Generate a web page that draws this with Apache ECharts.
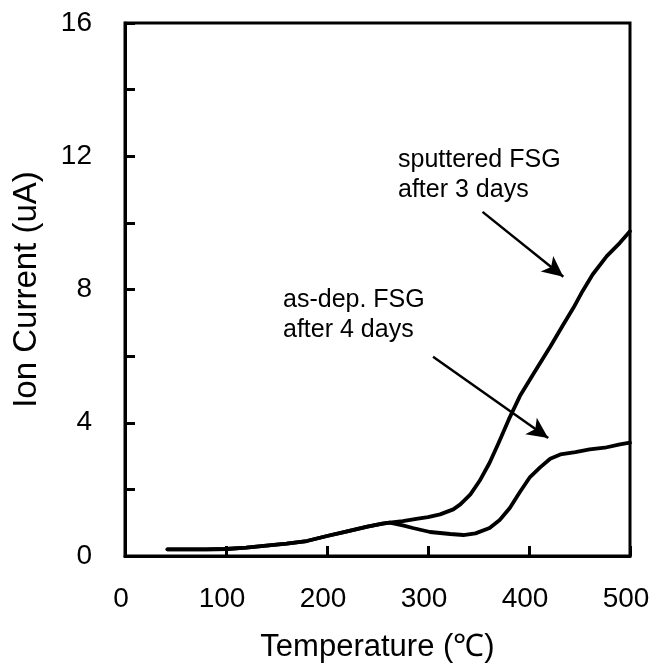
<!DOCTYPE html>
<html>
<head>
<meta charset="utf-8">
<script src="https://cdn.jsdelivr.net/npm/echarts@6/dist/echarts.min.js"></script>
<style>html,body{margin:0;padding:0;background:#fff}#c{width:653px;height:671px}</style>
</head>
<body>
<div id="c"></div>
<script>
// Data
var sputteredT = [42,60,80,100,120,140,160,180,200,220,240,255,262,275,290,300,312,325,332,342,351,361,370,380,391,404,421,434,444,453,463,477,490,500];
var sputteredI = [0.2,0.2,0.2,0.21,0.25,0.31,0.37,0.45,0.6,0.74,0.88,0.97,1.0,1.05,1.12,1.17,1.25,1.4,1.55,1.85,2.25,2.8,3.4,4.1,4.8,5.45,6.28,6.95,7.45,7.95,8.45,9.0,9.4,9.75];
var asdepT = [42,60,80,100,120,140,160,180,200,220,240,255,262,275,285,302,322,335,347,361,371,381,391,401,411,421,431,446,460,475,490,500];
var asdepI = [0.2,0.2,0.2,0.21,0.25,0.31,0.37,0.45,0.6,0.74,0.88,0.97,1.0,0.92,0.84,0.72,0.66,0.63,0.68,0.84,1.08,1.44,1.92,2.37,2.66,2.92,3.05,3.12,3.2,3.25,3.35,3.4];
var xTicks = [0,100,200,300,400,500];
var yTicks = [0,4,8,12,16];
var arrowSputtered = [[354,10.33],[434,8.38]];
var arrowAsdep = [[305,5.98],[419,3.54]];

function pairs(xs, ys){ return xs.map(function(x,i){return [x, ys[i]];}); }
var FONT = 'Liberation Sans, Arial, sans-serif';
var chart = echarts.init(document.getElementById('c'));
chart.setOption({
  animation: false,
  backgroundColor: '#fff',
  grid: {left:125, right:23, top:23, bottom:115, show:true, borderColor:'#000', borderWidth:3, backgroundColor:'transparent'},
  xAxis: {
    type:'value', min:xTicks[0], max:xTicks[xTicks.length-1], interval:100,
    name:'Temperature (\u2103)', nameLocation:'middle', nameGap:76,
    nameTextStyle:{fontFamily:FONT, fontSize:31, color:'#000'},
    axisLine:{show:true, lineStyle:{color:'#000', width:3}},
    axisTick:{show:true, inside:true, length:10, lineStyle:{color:'#000', width:3}},
    axisLabel:{fontFamily:FONT, fontSize:28, color:'#000', margin:29, padding:[0,8,0,0]},
    splitLine:{show:false}
  },
  yAxis: {
    type:'value', min:yTicks[0], max:yTicks[yTicks.length-1], interval:2,
    name:'Ion Current (uA)', nameLocation:'middle', nameGap:82, nameRotate:90,
    nameTextStyle:{fontFamily:FONT, fontSize:33, color:'#000'},
    axisLine:{show:true, lineStyle:{color:'#000', width:3}},
    axisTick:{show:true, inside:true, length:10, lineStyle:{color:'#000', width:3}},
    axisLabel:{fontFamily:FONT, fontSize:28, color:'#000', margin:33,
      formatter:function(v){ return yTicks.indexOf(v) >= 0 ? String(v) : ''; }},
    splitLine:{show:false}
  },
  series: [
    {type:'line', name:'sputtered FSG after 3 days', data:pairs(sputteredT, sputteredI), showSymbol:false, smooth:false,
     lineStyle:{color:'#000', width:3.8, join:'round', cap:'round'}, z:3,
     markLine:{silent:true, symbol:['none','arrow'], symbolSize:[15,21], label:{show:false},
       lineStyle:{color:'#000', width:2.5, type:'solid'},
       data:[[{coord:arrowSputtered[0]},{coord:arrowSputtered[1]}],[{coord:arrowAsdep[0]},{coord:arrowAsdep[1]}]]}},
    {type:'line', name:'as-dep. FSG after 4 days', data:pairs(asdepT, asdepI), showSymbol:false, smooth:false,
     lineStyle:{color:'#000', width:3.8, join:'round', cap:'round'}, z:3}
  ],
  graphic: [
    {type:'text', left:398, top:145, style:{text:'sputtered FSG\nafter 3 days', font:'25px '+FONT, fill:'#000', lineHeight:30}},
    {type:'text', left:283, top:285, style:{text:'as-dep. FSG\nafter 4 days', font:'25px '+FONT, fill:'#000', lineHeight:30}}
  ]
});
</script>
</body>
</html>
